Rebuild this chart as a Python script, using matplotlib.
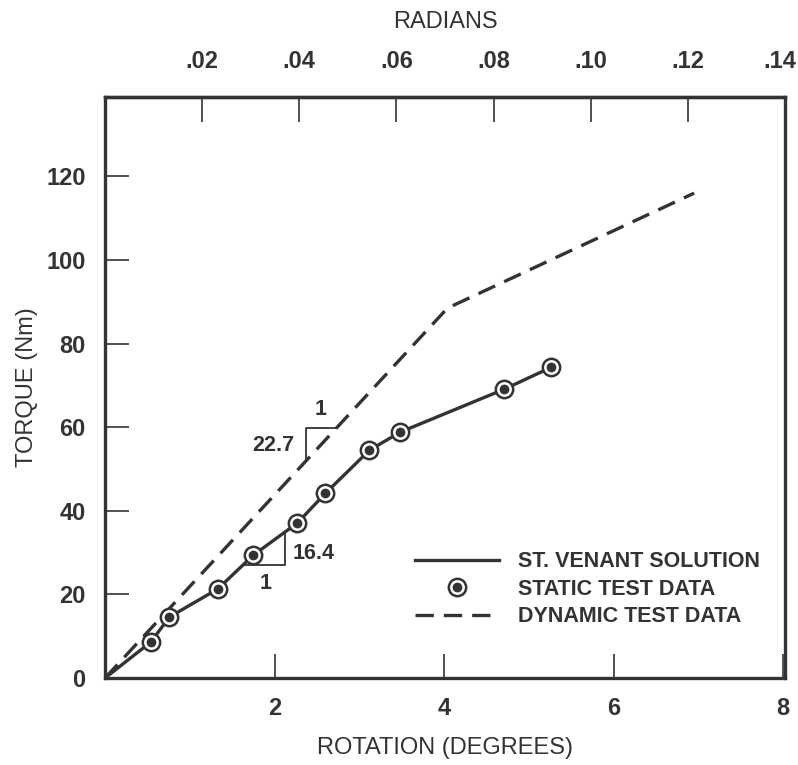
import numpy as np
import matplotlib.pyplot as plt
from matplotlib.lines import Line2D
from matplotlib.transforms import ScaledTranslation

plt.rcParams['font.family'] = ['Liberation Sans', 'DejaVu Sans']

ink = '#333333'

# static test data (degrees, Nm)
static_deg = [0.54, 0.76, 1.33, 1.75, 2.27, 2.60, 3.12, 3.48, 4.71, 5.26]
static_torque = [8.6, 14.6, 21.3, 29.4, 37.1, 44.2, 54.5, 58.8, 69.1, 74.3]

# St. Venant solution
venant_deg = [0.0, 0.54, 0.76, 1.33, 1.75, 2.27, 2.60, 3.12, 3.48, 4.71, 5.26]
venant_torque = [0.0, 8.6, 14.6, 21.3, 29.4, 37.1, 44.2, 54.5, 58.8, 69.1, 74.3]

# dynamic test data
dyn_deg = [0.0, 4.04, 6.95]
dyn_torque = [0.0, 88.5, 116.0]

x_ticks = [2, 4, 6, 8]
y_ticks = [0, 20, 40, 60, 80, 100, 120]
rad_ticks = [0.02, 0.04, 0.06, 0.08, 0.10, 0.12, 0.14]
rad_labels = ['.02', '.04', '.06', '.08', '.10', '.12', '.14']

fig = plt.figure(figsize=(7.98, 7.65), dpi=100)
ax = fig.add_axes([0.1316, 0.1137, 0.8521, 0.7595])

ax.plot(venant_deg, venant_torque, '-', color=ink, lw=2.4, zorder=2)
ax.plot(dyn_deg, dyn_torque, color=ink, lw=2.4, dashes=(5.5, 3), zorder=2)
ax.plot(static_deg, static_torque, 'o', ms=12.5, mfc='white', mec=ink, mew=1.8, zorder=3)
ax.plot(static_deg, static_torque, 'o', ms=6, color=ink, zorder=4)

# slope triangles
ann = dict(ha='center', va='center', fontsize=15.5, fontweight='bold', color=ink)
ax.plot([2.376, 2.376, 2.729], [52.1, 59.8, 59.8], color=ink, lw=1.3)
ax.text(2.54, 64.3, '1', **ann)
ax.text(1.99, 55.7, '22.7', **ann)
ax.plot([1.624, 2.129, 2.129], [27.0, 27.0, 34.9], color=ink, lw=1.3)
ax.text(2.46, 29.9, '16.4', **ann)
ax.text(1.894, 22.5, '1', **ann)

ax.set_xlim(0, np.rad2deg(0.14))
ax.set_ylim(0, 139)

for s in ax.spines.values():
    s.set_linewidth(2.4)
    s.set_color(ink)

ax.set_xticks(x_ticks)
ax.set_yticks(y_ticks)
ax.tick_params(direction='in', length=17, width=1.2, color=ink, labelsize=17,
               labelcolor=ink, pad=14)
for lab in ax.get_xticklabels() + ax.get_yticklabels():
    lab.set_fontweight('bold')

ax.set_xlabel('ROTATION (DEGREES)', fontsize=17, color=ink, labelpad=12)
ax.set_ylabel('TORQUE (Nm)', fontsize=17, color=ink, labelpad=6)

top = ax.secondary_xaxis('top', functions=(np.deg2rad, np.rad2deg))
top.set_xticks(rad_ticks)
top.set_xticklabels(rad_labels)
top.tick_params(direction='in', length=18, width=1.2, color=ink, labelsize=17,
                labelcolor=ink, pad=17)
for lab in top.get_xticklabels():
    lab.set_fontweight('bold')
last = top.get_xticklabels()[-1]
last.set_ha('right')
last.set_transform(last.get_transform() + ScaledTranslation(0.11, 0, fig.dpi_scale_trans))
top.spines['top'].set_linewidth(2.4)
top.spines['top'].set_color(ink)
top.set_xlabel('RADIANS', fontsize=17, color=ink, labelpad=16)

h_solid = Line2D([], [], color=ink, lw=2.4)
h_ring = Line2D([], [], ls='none', marker='o', ms=12.5, mfc='white', mec=ink, mew=1.8)
h_dot = Line2D([], [], ls='none', marker='o', ms=6, color=ink)
h_dash = Line2D([], [], color=ink, lw=2.4, dashes=(5.5, 3))
leg = ax.legend([h_solid, (h_ring, h_dot), h_dash],
                ['ST. VENANT SOLUTION', 'STATIC TEST DATA', 'DYNAMIC TEST DATA'],
                loc='upper left', bbox_to_anchor=(0.456, 0.218), frameon=False,
                borderpad=0, borderaxespad=0, handlelength=3.9, handletextpad=0.9,
                labelspacing=0.3, prop={'size': 15.5, 'weight': 'bold'})
for t in leg.get_texts():
    t.set_color(ink)

fig.savefig('out.png', dpi=100)
